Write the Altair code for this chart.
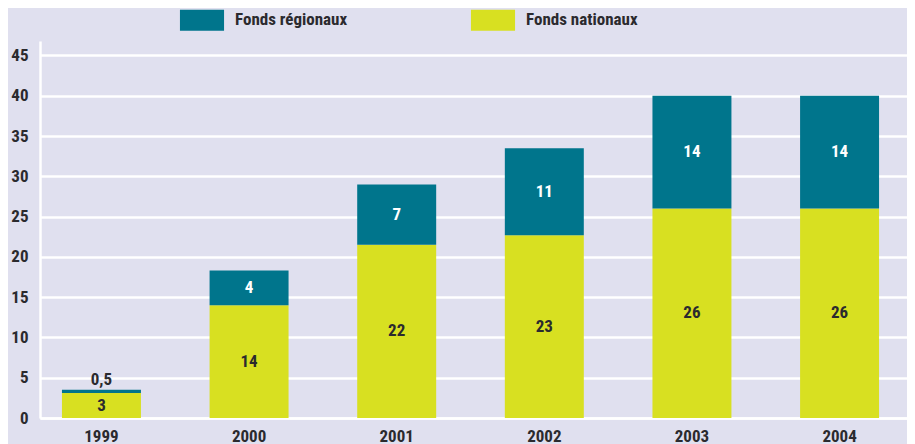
import altair as alt
import pandas as pd

years = ["1999", "2000", "2001", "2002", "2003", "2004"]
nationaux = [3.1, 14.0, 21.5, 22.7, 26.0, 26.0]
regionaux = [0.4, 4.3, 7.5, 10.8, 14.0, 14.0]
lab_nat = ["3", "14", "22", "23", "26", "26"]
lab_reg = ["0,5", "4", "7", "11", "14", "14"]
series = ["Fonds régionaux", "Fonds nationaux"]
colors = ["#00758c", "#d8e021"]
y_ticks = [0, 5, 10, 15, 20, 25, 30, 35, 40, 45]

rows = []
for i, y in enumerate(years):
    rows.append({"annee": y, "serie": series[1], "valeur": nationaux[i], "label": lab_nat[i], "ord": 0})
    rows.append({"annee": y, "serie": series[0], "valeur": regionaux[i], "label": lab_reg[i], "ord": 1})
df = pd.DataFrame(rows)

FONT = "Liberation Sans Narrow, Roboto Condensed, Noto Sans Condensed, DejaVu Sans Condensed, DejaVu Sans"
DARK = "#2b2a2e"
BG = "#e0e0ef"
FS = 17

xenc = alt.X("annee:N", title=None,
             scale=alt.Scale(paddingInner=0.465, paddingOuter=0.169, align=0.44),
             axis=alt.Axis(labelAngle=0, ticks=False, domain=True, domainColor="white",
                           domainWidth=2.5, labelPadding=10, labelFontSize=FS,
                           labelFont=FONT, labelFontWeight="bold", labelColor=DARK,
                           grid=False))
yscale = alt.Scale(domain=[0, 46.8], nice=False, zero=True)

base = alt.Chart(df).transform_stack(
    stack="valeur", groupby=["annee"], as_=["y0", "y1"],
    sort=[alt.SortField("ord", order="ascending")]
)

bars = base.mark_bar().encode(
    x=xenc,
    y=alt.Y("y0:Q", scale=yscale, title=None,
            axis=alt.Axis(values=y_ticks, ticks=False, domain=True, domainColor="white",
                          domainWidth=2.5, grid=True, gridColor="white", gridWidth=2.5,
                          labelPadding=12, labelFontSize=FS, labelFont=FONT,
                          labelFontWeight="bold", labelColor=DARK)),
    y2="y1:Q",
    color=alt.Color("serie:N", scale=alt.Scale(domain=series, range=colors),
                    legend=alt.Legend(title=None, orient="none", direction="horizontal",
                                      legendX=141, legendY=-42,
                                      symbolType="M-1.05,-0.5H1.05V0.5H-1.05Z",
                                      symbolSize=1764, symbolStrokeWidth=0,
                                      symbolOpacity=1,
                                      labelFont=FONT, labelFontSize=17,
                                      labelFontWeight="bold", labelColor=DARK,
                                      labelOffset=12, columnPadding=122)),
)

texts = base.transform_calculate(
    mid="datum.valeur < 1 ? datum.y1 + 1.2 : (datum.y0 + datum.y1) / 2",
    tcol="(datum.ord == 1 && datum.valeur >= 1) ? 'white' : '" + DARK + "'",
).mark_text(font=FONT, fontSize=FS, fontWeight="bold", baseline="middle").encode(
    x=alt.X("annee:N"),
    y=alt.Y("mid:Q", scale=yscale),
    text="label:N",
    color=alt.Color("tcol:N", scale=None),
)

chart = alt.layer(bars, texts).properties(
    width=867, height=377,
    autosize=alt.AutoSizeParams(type="none"),
    padding={"left": 32, "top": 33, "right": 0, "bottom": 30},
    background=BG,
).configure_view(stroke=None, fill=BG)

chart.save("out.html", embed_options={"renderer": "svg", "actions": False})
